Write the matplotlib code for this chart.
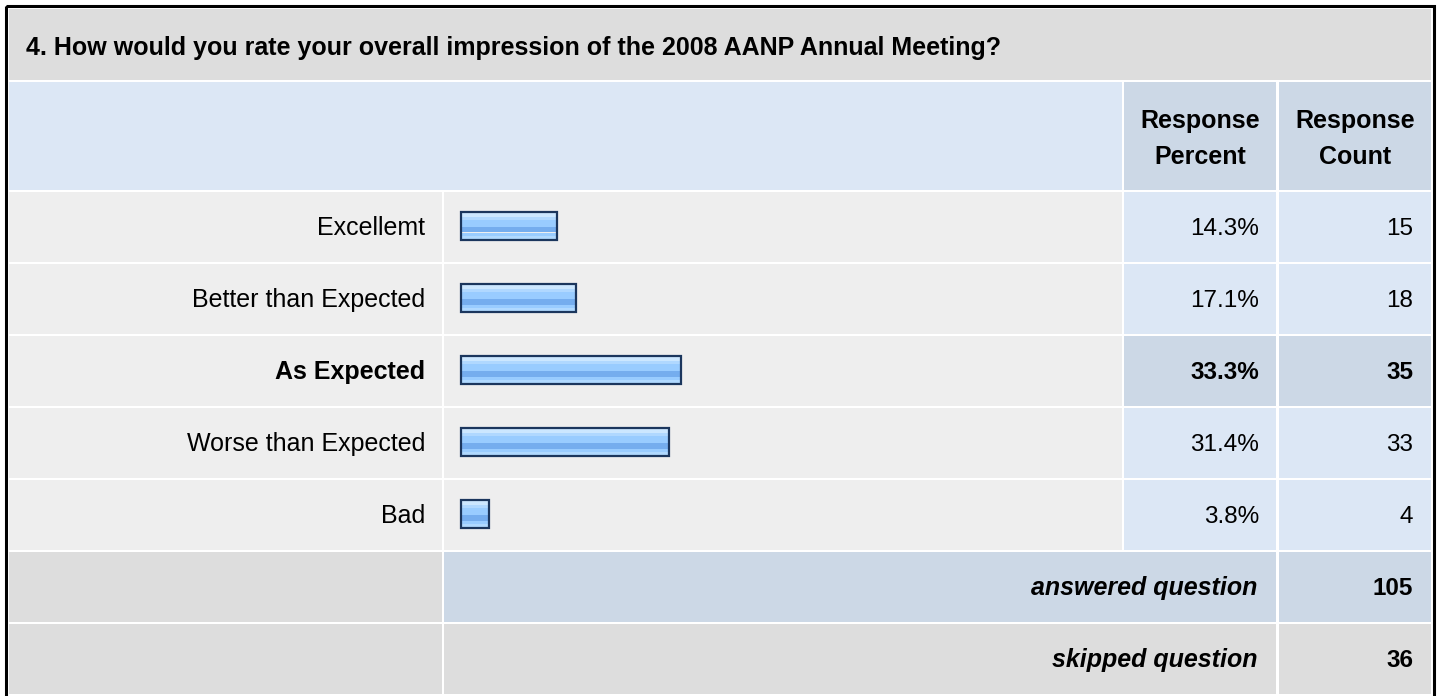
import matplotlib
matplotlib.use("Agg")
import matplotlib.pyplot as plt
from matplotlib.patches import Rectangle

# ---------------- data ----------------
question = "4. How would you rate your overall impression of the 2008 AANP Annual Meeting?"
categories = ["Excellemt", "Better than Expected", "As Expected", "Worse than Expected", "Bad"]
percents = [14.3, 17.1, 33.3, 31.4, 3.8]
counts = [15, 18, 35, 33, 4]
col_headers = [["Response", "Percent"], ["Response", "Count"]]
footer_labels = ["answered question", "skipped question"]
footer_values = [105, 36]

# ---------------- style ----------------
plt.rcParams['font.family'] = ['Liberation Sans', 'DejaVu Sans']
W, H = 1440, 696
FS = 18.0      # words
FSN = 17.5     # numbers
TXT = "#000000"
C_TITLE = "#DDDDDD"
C_HEAD = "#DCE7F5"
C_HEAD2 = "#CCD8E6"
C_CELL = "#EEEEEE"
C_VAL = "#DCE7F5"
C_HI = "#CCD8E6"
C_FOOT = "#DDDDDD"

# column edges (px)
X_L = (9, 442)
X_B = (444, 1122)
X_P = (1124, 1276)
X_C = (1279, 1431)
ROW0 = 192
PITCH = 72
RH = 70

fig = plt.figure(figsize=(W / 100, H / 100), dpi=100)
fig.patch.set_facecolor("white")
ax = fig.add_axes([0, 0, 1, 1])
ax.set_xlim(0, W)
ax.set_ylim(H, 0)
ax.axis("off")


def cell(x0, x1, y0, y1, color):
    ax.add_patch(Rectangle((x0, y0), x1 - x0, y1 - y0, facecolor=color,
                           edgecolor="none", zorder=1))


# outer border
ax.add_patch(Rectangle((5.5, 6), 1433.5 - 5.5, 720, facecolor="none",
                       edgecolor="#000000", linewidth=2.2, zorder=5))

# title row
cell(9, 1431, 9, 80, C_TITLE)
ax.text(26, 55, question, fontsize=FS, fontweight="bold", color=TXT,
        ha="left", va="baseline", zorder=3)

# header row
cell(X_L[0], X_B[1], 82, 190, C_HEAD)
for (x0, x1), lines in zip([X_P, X_C], col_headers):
    cell(x0, x1, 82, 190, C_HEAD2)
    xc = (x0 + x1) / 2
    ax.text(xc, 128, lines[0], fontsize=FS, fontweight="bold", color=TXT,
            ha="center", va="baseline", zorder=3)
    ax.text(xc, 164, lines[1], fontsize=FS, fontweight="bold", color=TXT,
            ha="center", va="baseline", zorder=3)

# data rows
hi = counts.index(max(counts))
for k, (cat, p, c) in enumerate(zip(categories, percents, counts)):
    y0 = ROW0 + PITCH * k
    y1 = y0 + RH
    vcol = C_HI if k == hi else C_VAL
    cell(*X_L, y0, y1, C_CELL)
    cell(*X_B, y0, y1, C_CELL)
    cell(*X_P, y0, y1, vcol)
    cell(*X_C, y0, y1, vcol)
    fw = "bold" if k == hi else "normal"
    yb = y0 + 43
    ax.text(X_L[1] - 17, yb, cat, fontsize=FS, fontweight=fw, color=TXT,
            ha="right", va="baseline", zorder=3)
    ax.text(X_P[1] - 17, yb, f"{p:.1f}%", fontsize=FSN, fontweight=fw, color=TXT,
            ha="right", va="baseline", zorder=3)
    ax.text(X_C[1] - 18, yb, f"{c}", fontsize=FSN, fontweight=fw, color=TXT,
            ha="right", va="baseline", zorder=3)

# footer rows
nrows = len(categories)
for j, (lab, val) in enumerate(zip(footer_labels, footer_values)):
    y0 = ROW0 + PITCH * (nrows + j)
    y1 = y0 + RH
    mid = C_HI if j == 0 else C_FOOT
    cell(*X_L, y0, y1, C_FOOT)
    cell(X_B[0], X_P[1], y0, y1, mid)
    cell(*X_C, y0, y1, mid)
    yb = y0 + 43
    ax.text(X_P[1] - 19, yb, lab, fontsize=FS, fontweight="bold", fontstyle="italic",
            color=TXT, ha="right", va="baseline", zorder=3)
    ax.text(X_C[1] - 18, yb, f"{val}", fontsize=FSN, fontweight="bold", color=TXT,
            ha="right", va="baseline", zorder=3)

# ---------------- bars (own axes, x in percent) ----------------
PX_PER_PCT = 6.51
ZERO_PX = 464.3        # where 0 % falls
BAR_START_PX = 461     # bars have a small stub before 0 %
bh_px = PITCH * nrows
bax = fig.add_axes([X_B[0] / W, 1 - (ROW0 + bh_px) / H,
                    (X_B[1] - X_B[0]) / W, bh_px / H])
bax.set_xlim(-(ZERO_PX - X_B[0]) / PX_PER_PCT, (X_B[1] - ZERO_PX) / PX_PER_PCT)
bax.set_ylim(bh_px, 0)
bax.axis("off")
bax.patch.set_alpha(0)

stub = -(ZERO_PX - BAR_START_PX) / PX_PER_PCT
widths = [p - stub for p in percents]
bar_h = 28
centers = [PITCH * k + 33.5 for k in range(nrows)]
stripes = [(0.00, 0.18, "#CCE7FF"),
           (0.18, 0.32, "#B0D8FF"),
           (0.32, 0.55, "#99CCFF"),
           (0.55, 0.75, "#75ADEE"),
           (0.75, 0.86, "#99CCFF"),
           (0.86, 1.00, "#B0D9FF")]
for f0, f1, col in stripes:
    ys = [c - bar_h / 2 + (f0 + f1) / 2 * bar_h for c in centers]
    bax.barh(ys, widths, height=(f1 - f0) * bar_h, left=stub, color=col,
             linewidth=0, zorder=2)
bax.barh(centers, widths, height=bar_h, left=stub, fill=False,
         edgecolor="#1B365D", linewidth=1.6, zorder=3)

fig.savefig("out.png", dpi=100, facecolor="white")
